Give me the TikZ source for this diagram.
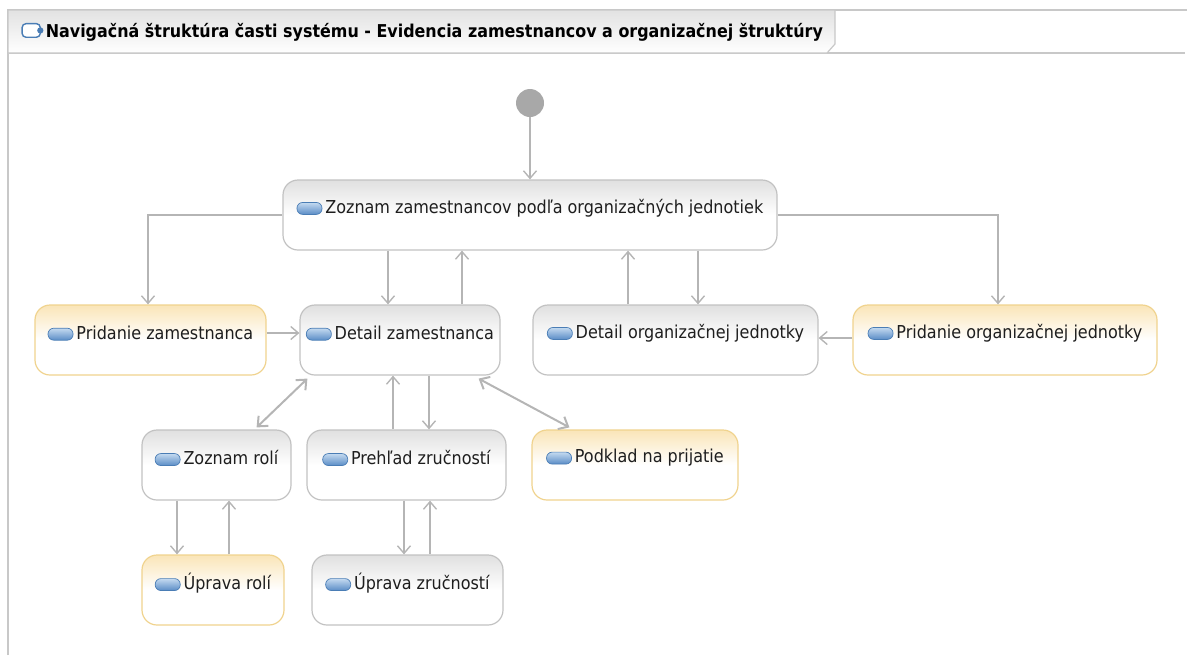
\documentclass[tikz,border=0pt]{standalone}
\usepackage{fontspec}
\setmainfont{DejaVu Sans Condensed}
\usetikzlibrary{arrows.meta,calc}
\definecolor{lineg}{HTML}{B5B5B5}
\definecolor{boxg}{HTML}{C2C2C2}
\definecolor{boxy}{HTML}{F0D38E}
\definecolor{gtop}{HTML}{E0E0E0}
\definecolor{ytop}{HTML}{FAE5B8}
\definecolor{initg}{HTML}{A8A8A8}
\definecolor{pillb}{HTML}{4A7DB5}
\definecolor{pillt}{HTML}{C4DAF0}
\definecolor{pilld}{HTML}{5A8CC6}
\definecolor{frameg}{HTML}{C8C8C8}
\definecolor{tabtop}{HTML}{E2E2E2}
\definecolor{txt}{HTML}{1E1E1E}
\newcommand\pill{\tikz[baseline={(0,0.02cm)}]\draw[draw=pillb,line width=0.35pt,top color=pillt,bottom color=pilld,rounded corners=0.1cm] (0,0) rectangle (0.44cm,0.21cm);}
\newcommand\tabicon{\tikz[baseline={(0,0.0cm)}]{\draw[draw=pillb,line width=0.7pt,fill=white,rounded corners=0.07cm] (0,0) rectangle (0.32cm,0.24cm);\fill[pillb] (0.32cm,0.12cm) circle (0.055cm);}}
\begin{document}
\begin{tikzpicture}[x=0.5pt,y=-0.5pt,
  box/.style={draw=boxg,line width=0.6pt,rounded corners=7.5pt,inner sep=0pt,minimum height=35pt,shading=axis,top color=gtop,bottom color=white,middle color=white},
  ybox/.style={box,draw=boxy,top color=ytop,bottom color=white,middle color=white},
  lbl/.style={inner sep=0pt,font=\fontsize{8.9pt}{10pt}\selectfont,text=txt},
  arr/.style={draw=lineg,line width=0.7pt,-{Straight Barb[length=3.8pt,width=6.5pt]}},
  darr/.style={draw=lineg,line width=1pt,{Straight Barb[length=4pt,width=7pt]}-{Straight Barb[length=4pt,width=7pt]}}
]
\useasboundingbox (0,0) rectangle (1187,655);
% frame
\draw[frameg,line width=0.6pt] (8,655) -- (8,10) -- (1187,10);
\draw[frameg,line width=0.6pt] (8,53) -- (1185,53);
\path[shading=axis,top color=tabtop,bottom color=white,draw=frameg,line width=0.6pt] (8,10) -- (835,10) -- (835,44) -- (827,53) -- (8,53) -- cycle;
\node[anchor=west,inner sep=0pt,font=\fontsize{8.85pt}{10pt}\selectfont\bfseries] (title) at (21,32) {\tabicon\hspace{1.2pt}Navigačná štruktúra časti systému - Evidencia zamestnancov a organizačnej štruktúry};
% initial
\node[circle,fill=initg,minimum size=14pt,inner sep=0pt] (init) at (530,103) {};
% boxes
\node[box,minimum width=247pt] (zz) at (530,215) {};
\node[ybox,minimum width=115.5pt] (pz) at (150.5,340) {};
\node[box,minimum width=100pt] (dz) at (400,340) {};
\node[box,minimum width=142.5pt] (dj) at (675.5,340) {};
\node[ybox,minimum width=152pt] (pj) at (1005,340) {};
\node[box,minimum width=74.5pt] (zr) at (216.5,465) {};
\node[box,minimum width=99.5pt] (pr) at (406.5,465) {};
\node[ybox,minimum width=103pt] (pp) at (635,465) {};
\node[ybox,minimum width=71pt] (ur) at (213,590) {};
\node[box,minimum width=95.5pt] (uz) at (407.5,590) {};
% labels
\node[lbl] (zzt) at ([yshift=3.5pt]zz.center) {\pill\hspace{1.5pt}Zoznam zamestnancov podľa organizačných jednotiek};
\node[lbl] (pzt) at ([yshift=3.5pt]pz.center) {\pill\hspace{1.5pt}Pridanie zamestnanca};
\node[lbl] (dzt) at ([yshift=3.5pt]dz.center) {\pill\hspace{1.5pt}Detail zamestnanca};
\node[lbl] (djt) at ([yshift=3.5pt]dj.center) {\pill\hspace{1.5pt}Detail organizačnej jednotky};
\node[lbl] (pjt) at ([yshift=3.5pt]pj.center) {\pill\hspace{1.5pt}Pridanie organizačnej jednotky};
\node[lbl] (zrt) at ([yshift=3.5pt]zr.center) {\pill\hspace{1.5pt}Zoznam rolí};
\node[lbl] (prt) at ([yshift=3.5pt]pr.center) {\pill\hspace{1.5pt}Prehľad zručností};
\node[lbl] (ppt) at ([yshift=3.5pt]pp.center) {\pill\hspace{1.5pt}Podklad na prijatie};
\node[lbl] (urt) at ([yshift=3.5pt]ur.center) {\pill\hspace{1.5pt}Úprava rolí};
\node[lbl] (uzt) at ([yshift=3.5pt]uz.center) {\pill\hspace{1.5pt}Úprava zručností};
% connectors
\draw[arr] (init) -- (zz.north);
\draw[arr] (zz.west) -| (148,0 |- pz.north);
\draw[arr] (zz.east) -| (998,0 |- pj.north);
\draw[arr] (388,0 |- zz.south) -- (388,0 |- dz.north);
\draw[arr] (462,0 |- dz.north) -- (462,0 |- zz.south);
\draw[arr] (628,0 |- dj.north) -- (628,0 |- zz.south);
\draw[arr] (698,0 |- zz.south) -- (698,0 |- dj.north);
\draw[arr] (pz.east |- 0,333) -- (dz.west |- 0,333);
\draw[arr] (pj.west |- 0,338) -- (dj.east |- 0,338);
\draw[darr] ($(dz.south west)+(8,3)$) -- ($(zr.north east)+(-35,-2)$);
\draw[darr] ($(dz.south east)+(-22,3)$) -- ($(pp.north west)+(38,-2)$);
\draw[arr] (393,0 |- pr.north) -- (393,0 |- dz.south);
\draw[arr] (429,0 |- dz.south) -- (429,0 |- pr.north);
\draw[arr] (177,0 |- zr.south) -- (177,0 |- ur.north);
\draw[arr] (229,0 |- ur.north) -- (229,0 |- zr.south);
\draw[arr] (404,0 |- pr.south) -- (404,0 |- uz.north);
\draw[arr] (430,0 |- uz.north) -- (430,0 |- pr.south);
\end{tikzpicture}
\end{document}
